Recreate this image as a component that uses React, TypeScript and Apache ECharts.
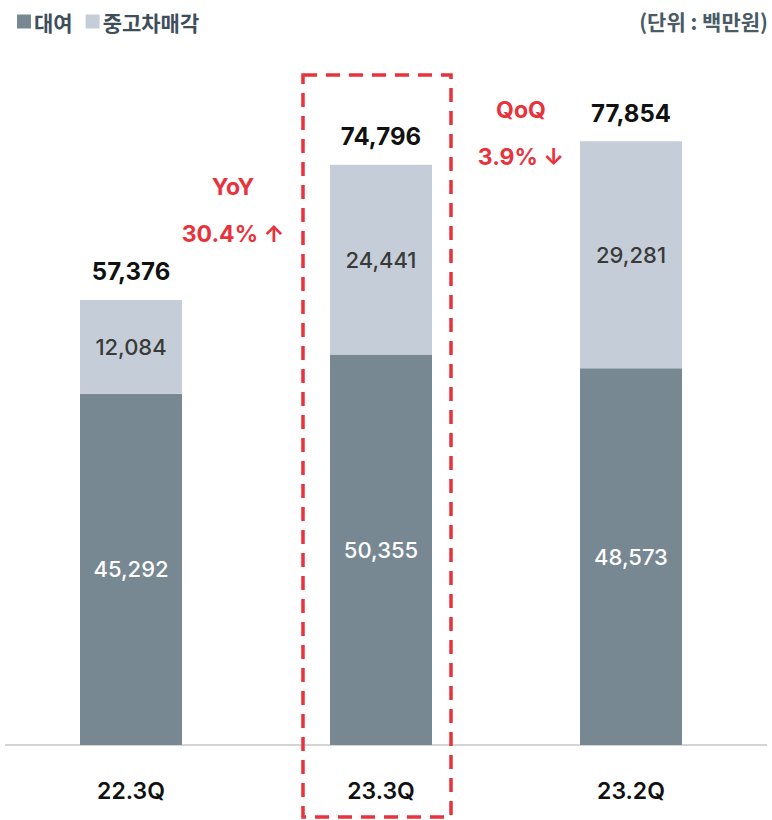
import React, { useEffect, useRef } from "react";
import * as echarts from "echarts";

const categories = ["22.3Q", "23.3Q", "23.2Q"];
const rental = [45292, 50355, 48573];
const usedCarSales = [12084, 24441, 29281];
const totals = [57376, 74796, 77854];
const seriesNames = ["대여", "중고차매각"];
const unitLabel = "(단위 : 백만원)";
const yoyTitle = "YoY";
const yoyValue = "30.4% ↑";
const qoqTitle = "QoQ";
const qoqValue = "3.9% ↓";

const FONT = "Inter, 'Noto Sans CJK KR', sans-serif";
const KFONT = "'Noto Sans CJK KR', sans-serif";
const RED = "#e8323c";

export default function App() {
  const ref = useRef<HTMLDivElement>(null);
  useEffect(() => {
    if (!ref.current) return;
    const chart = echarts.init(ref.current, null, { renderer: "svg" });
    const fmt = (v: number) => v.toLocaleString("en-US");
    chart.setOption({
      animation: false,
      textStyle: { fontFamily: FONT },
      legend: {
        left: 12,
        top: 6,
        itemWidth: 14,
        itemHeight: 14,
        itemGap: 13,
        icon: "rect",
        data: seriesNames,
        textStyle: { fontFamily: KFONT, fontSize: 21, fontWeight: "bold", color: "#3e4e5b", padding: [0, 0, 0, -2] },
      },
      grid: { left: 6, width: 750, top: 124.5, height: 620.5 },
      xAxis: {
        type: "category",
        data: categories,
        axisLine: { show: false },
        axisTick: { show: false },
        axisLabel: { margin: 34, fontFamily: FONT, fontSize: 23, fontWeight: 600, color: "#111" },
      },
      yAxis: { type: "value", min: 0, max: 80000, show: false, splitLine: { show: false } },
      series: [
        {
          name: seriesNames[0],
          type: "bar",
          stack: "a",
          barWidth: 102,
          data: rental,
          itemStyle: { color: "#778893" },
          label: { show: true, position: "inside", color: "#fff", fontFamily: FONT, fontSize: 22, fontWeight: 500, formatter: (p: any) => fmt(p.value) },
        },
        {
          name: seriesNames[1],
          type: "bar",
          stack: "a",
          data: usedCarSales,
          itemStyle: { color: "#c5ced8" },
          label: { show: true, position: "inside", color: "#3a3a3a", fontFamily: FONT, fontSize: 22, fontWeight: 500, formatter: (p: any) => fmt(p.value) },
        },
        {
          name: "total",
          type: "bar",
          stack: "a",
          data: totals.map(() => 0),
          itemStyle: { color: "transparent" },
          label: {
            show: true,
            position: "top",
            distance: 16,
            color: "#111",
            fontFamily: FONT,
            fontSize: 24,
            fontWeight: "bold",
            formatter: (p: any) => fmt(totals[p.dataIndex]),
          },
        },
      ],
      graphic: [
        { type: "line", shape: { x1: 5, y1: 745, x2: 767, y2: 745 }, style: { stroke: "#d4d4d4", lineWidth: 2 } },
        {
          type: "rect",
          shape: { x: 303, y: 75, width: 148, height: 742 },
          style: { fill: "none", stroke: RED, lineWidth: 3.5, lineDash: [14, 9] },
        },
        { type: "text", x: 768, y: 21, style: { text: unitLabel, align: "right", verticalAlign: "middle", font: `bold 21px ${KFONT}`, fill: "#4a5a66" } },
        { type: "text", x: 233, y: 187, style: { text: yoyTitle, align: "center", verticalAlign: "middle", font: `bold 23px ${FONT}`, fill: RED } },
        { type: "text", x: 233, y: 234, style: { text: yoyValue, align: "center", verticalAlign: "middle", font: `bold 23px ${FONT}`, fill: RED } },
        { type: "text", x: 521, y: 110, style: { text: qoqTitle, align: "center", verticalAlign: "middle", font: `bold 23px ${FONT}`, fill: RED } },
        { type: "text", x: 521, y: 157, style: { text: qoqValue, align: "center", verticalAlign: "middle", font: `bold 23px ${FONT}`, fill: RED } },
      ],
    });
    return () => chart.dispose();
  }, []);
  return <div ref={ref} style={{ width: 772, height: 820, position: "absolute", left: 0, top: 0 }} />;
}
